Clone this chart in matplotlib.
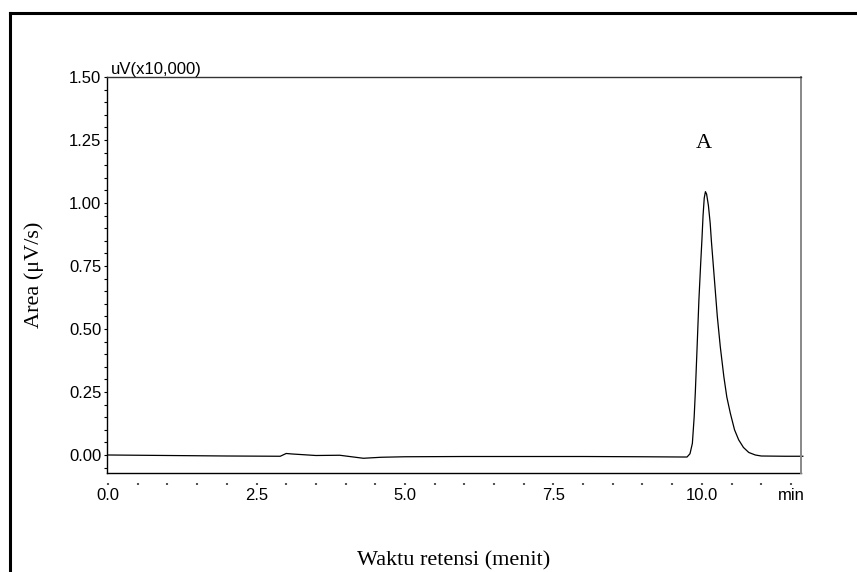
import numpy as np
import matplotlib.pyplot as plt
from matplotlib.lines import Line2D
from matplotlib.ticker import MultipleLocator

# retention time (min) and signal (uV x10,000)
waktu = [0.0, 1.0, 2.0, 2.9, 3.0, 3.1, 3.5, 3.9, 4.0, 4.3, 4.6, 5.0, 6.0, 7.0, 8.0, 9.0, 9.7,
         9.75, 9.80, 9.84, 9.87, 9.89, 9.92, 9.95, 9.98, 10.0, 10.02, 10.04, 10.06, 10.08,
         10.11, 10.14, 10.16, 10.21, 10.26, 10.31, 10.37, 10.42, 10.48, 10.55, 10.62, 10.70,
         10.79, 10.9, 11.0, 11.4, 11.7]
sinyal = [0.0, -0.002, -0.004, -0.005, 0.006, 0.004, -0.002, -0.001, -0.004, -0.013, -0.009,
          -0.007, -0.006, -0.006, -0.006, -0.007, -0.008,
          -0.008, 0.005, 0.046, 0.15, 0.25, 0.43, 0.615, 0.76, 0.85, 0.95, 1.02, 1.045, 1.035,
          0.99, 0.92, 0.85, 0.70, 0.55, 0.43, 0.311, 0.23, 0.165, 0.10, 0.06, 0.03,
          0.01, 0.0, -0.004, -0.005, -0.005]

x_ticks = [0.0, 2.5, 5.0, 7.5, 10.0, 11.5]
x_ticklabels = ["0.0", "2.5", "5.0", "7.5", "10.0", "min"]
y_ticks = [0.0, 0.25, 0.5, 0.75, 1.0, 1.25, 1.5]
y_ticklabels = ["0.00", "0.25", "0.50", "0.75", "1.00", "1.25", "1.50"]

sans = ["Liberation Sans", "DejaVu Sans"]
serif = ["Liberation Serif", "DejaVu Serif"]

fig = plt.figure(figsize=(8.57, 5.72), dpi=100)
ax = fig.add_axes([0.1249, 0.1731, 0.8098, 0.6923])

ax.plot(waktu, sinyal, color="black", lw=0.9, clip_on=False)
ax.set_xlim(-0.017, 11.67)
ax.set_ylim(-0.0714, 1.5)

# frame
ax.spines["left"].set_linewidth(1.0)
ax.spines["top"].set_linewidth(1.0)
ax.spines["top"].set_color("#333333")
ax.spines["right"].set_linewidth(1.4)
ax.spines["right"].set_color("#888888")
ax.spines["bottom"].set_position(("outward", 7))
ax.spines["bottom"].set_visible(False)
ax.plot([0, 1], [0, 0], transform=ax.transAxes, color="black", lw=1.0, clip_on=False)

ax.set_yticks(y_ticks)
ax.set_yticklabels(y_ticklabels, family=sans, fontsize=12)
ax.yaxis.set_minor_locator(MultipleLocator(0.05))
ax.tick_params(axis="y", which="both", direction="out", length=2, width=0.8, pad=2)

ax.set_xticks(x_ticks)
ax.set_xticklabels(x_ticklabels, family=sans, fontsize=12)
ax.xaxis.set_minor_locator(MultipleLocator(0.5))
ax.tick_params(axis="x", which="both", direction="out", length=1.5, width=1.5,
               color="#555555", pad=2)

ax.text(0.005, 1.0, "uV(x10,000)", transform=ax.transAxes, ha="left", va="bottom",
        family=sans, fontsize=12)
ax.text(10.03, 1.238, "A", ha="center", va="center", family=serif, fontsize=16)

ax.set_xlabel("Waktu retensi (menit)", family=serif, fontsize=16, labelpad=35)
ax.set_ylabel("Area (\u03bcV/s)", family=serif, fontsize=16, labelpad=18)

# outer border of the figure
fig.add_artist(Line2D([0.0117, 0.0117], [0.0, 0.977], color="black", lw=2.2))
fig.add_artist(Line2D([0.0117, 1.0], [0.977, 0.977], color="black", lw=2.2))

fig.savefig("out.png", dpi=100)
